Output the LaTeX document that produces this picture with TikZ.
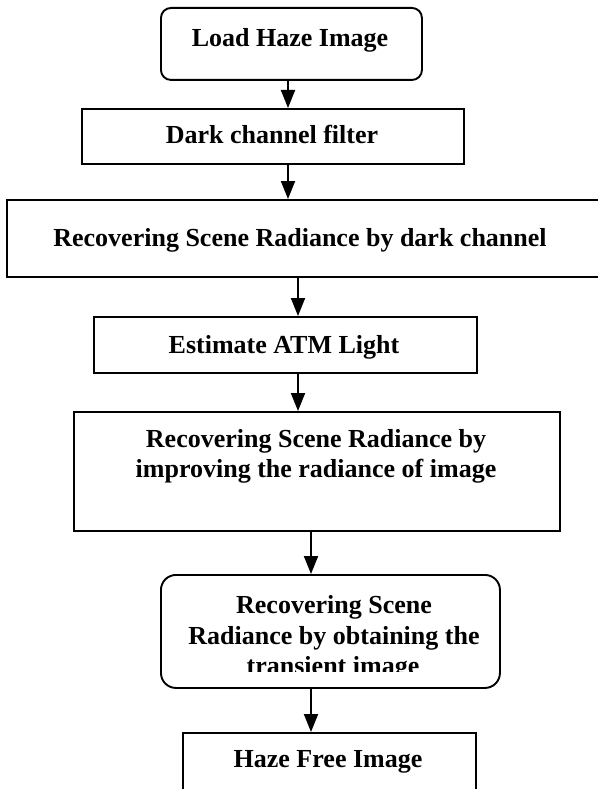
\documentclass[tikz,border=0pt]{standalone}
\usepackage{fontspec}
\setmainfont{Liberation Serif}
\usetikzlibrary{arrows.meta}
\begin{document}
\begin{tikzpicture}[x=1pt,y=-1pt,
  box/.style={draw=black,line width=1.9pt,fill=white},
  label/.style={anchor=base,inner sep=0pt,font=\fontsize{26}{31}\selectfont\bfseries},
  arr/.style={line width=1.9pt,-{Triangle[width=14pt,length=18pt]}}]
\useasboundingbox (0,0) rectangle (597,789);

% process boxes
\node[box,rounded corners=10pt,minimum width=261pt,minimum height=72pt,anchor=north west] (b1) at (160,7) {};
\node[box,minimum width=382pt,minimum height=55pt,anchor=north west] (b2) at (81,108) {};
\node[box,minimum width=600pt,minimum height=77pt,anchor=north west] (b3) at (6,199) {};
\node[box,minimum width=383pt,minimum height=56pt,anchor=north west] (b4) at (93,316) {};
\node[box,minimum width=486pt,minimum height=119pt,anchor=north west] (b5) at (73,411) {};
\node[box,rounded corners=15pt,minimum width=339pt,minimum height=113pt,anchor=north west] (b6) at (160,574) {};
\node[box,minimum width=293pt,minimum height=70pt,anchor=north west] (b7) at (182,732) {};

% box texts
\node[label] (t1) at (290,47) {Load Haze Image};
\node[label] (t2) at (272,143) {Dark channel filter};
\node[label] (t3) at (300,246) {Recovering Scene Radiance by dark channel};
\node[label] (t4) at (284,353) {Estimate ATM Light};
\node[label] (t5a) at (316,447) {Recovering Scene Radiance by};
\node[label] (t5b) at (316,477) {improving the radiance of image};
\begin{scope}
  \clip (0,0) rectangle (597,671);
  \node[label] (t6a) at (334,613) {Recovering Scene};
  \node[label] (t6b) at (334,644) {Radiance by obtaining the};
  \node[label] (t6c) at (333,674) {transient image};
\end{scope}
\node[label] (t7) at (328,767) {Haze Free Image};

% connector columns
\coordinate (c1) at (288,0);
\coordinate (c2) at (298,0);
\coordinate (c3) at (311,0);

% connectors
\draw[arr] (b1.south -| c1) -- (b2.north -| c1);
\draw[arr] (b2.south -| c1) -- (b3.north -| c1);
\draw[arr] (b3.south -| c2) -- (b4.north -| c2);
\draw[arr] (b4.south -| c2) -- (b5.north -| c2);
\draw[arr] (b5.south -| c3) -- (b6.north -| c3);
\draw[arr] (b6.south -| c3) -- (b7.north -| c3);
\end{tikzpicture}
\end{document}
